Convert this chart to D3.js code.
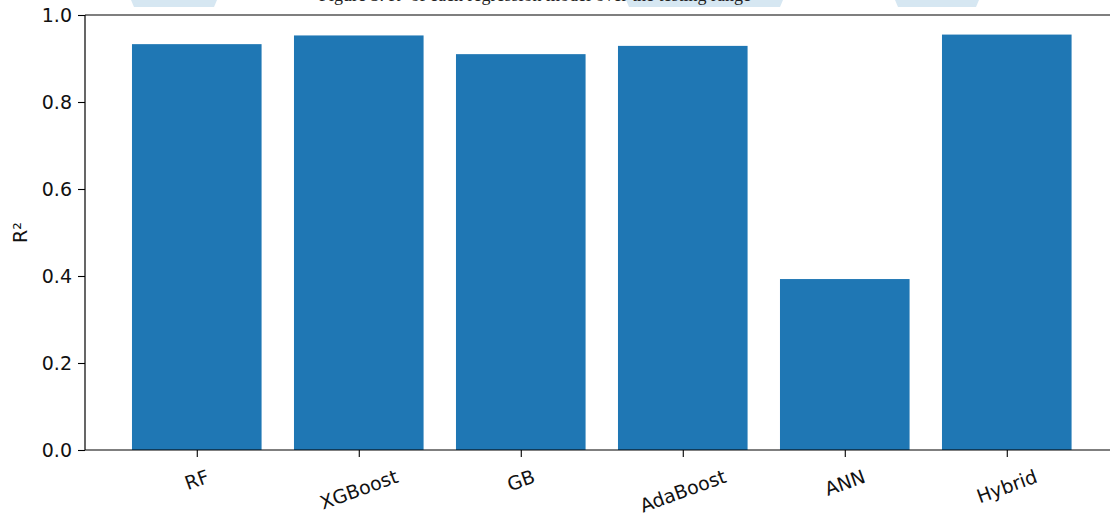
<!DOCTYPE html>
<html>
<head>
<meta charset="utf-8">
<script src="https://cdn.jsdelivr.net/npm/d3@7"></script>
<style>
  html, body { margin: 0; padding: 0; background: #fff; }
  svg { display: block; }
</style>
</head>
<body>
<svg id="chart" width="1110" height="513"></svg>
<script>
// Model names and their R² scores
const models = ["RF", "XGBoost", "GB", "AdaBoost", "ANN", "Hybrid"];
const r2Scores = [0.933, 0.953, 0.910, 0.929, 0.393, 0.955];
const yTicks = [0.0, 0.2, 0.4, 0.6, 0.8, 1.0];
const captionText = "Figure 3. R² of each regression model over the testing range";

const svg = d3.select("#chart");

// Plot area (the right part runs past the visible page edge)
const plotLeft = 85, plotTop = 15, plotBottom = 450;
const barWidth = 0.8;
const pad = (models.length - 1 + barWidth) * 0.05;
const xMin = -barWidth / 2 - pad, xMax = models.length - 1 + barWidth / 2 + pad;
const pxPerUnit = 162;
const plotRight = plotLeft + (xMax - xMin) * pxPerUnit;

const x = d3.scaleLinear().domain([xMin, xMax]).range([plotLeft, plotRight]);
const y = d3.scaleLinear().domain([0, 1]).range([plotBottom, plotTop]);

// Pale header band decoration
const bands = [[131, 217], [626, 783], [895, 979]];
svg.append("g").selectAll("path").data(bands).join("path")
  .attr("d", d => `M${d[0]},0 L${d[1]},0 L${d[1] - 3},7 L${d[0] + 3},7 Z`)
  .attr("fill", "#d6e7f2");

// Caption (mostly above the page edge)
svg.append("text")
  .attr("x", 535).attr("y", 1)
  .attr("text-anchor", "middle")
  .attr("font-family", "Liberation Serif, serif")
  .attr("font-size", 18)
  .attr("fill", "#222")
  .text(captionText);

// Bars
svg.append("g").selectAll("rect").data(models).join("rect")
  .attr("x", (d, i) => x(i - barWidth / 2))
  .attr("width", (d, i) => x(i + barWidth / 2) - x(i - barWidth / 2))
  .attr("y", (d, i) => y(r2Scores[i]))
  .attr("height", (d, i) => y(0) - y(r2Scores[i]))
  .attr("fill", "#1f77b4");

const fontFamily = "DejaVu Sans, sans-serif";
const fontSize = 19;

// Y axis
const yAxis = svg.append("g")
  .attr("transform", `translate(${plotLeft},0)`)
  .call(d3.axisLeft(y).tickValues(yTicks).tickFormat(d3.format(".1f")).tickSize(7).tickPadding(6));
yAxis.select(".domain").remove();
yAxis.selectAll("line").attr("stroke", "#000").attr("stroke-width", 1.1);
yAxis.selectAll("text").attr("font-family", fontFamily).attr("font-size", fontSize).attr("fill", "#111");

// X axis ticks
const xAxis = svg.append("g")
  .attr("transform", `translate(0,${plotBottom})`)
  .call(d3.axisBottom(x).tickValues(d3.range(models.length)).tickFormat("").tickSize(7));
xAxis.select(".domain").remove();
xAxis.selectAll("line").attr("stroke", "#000").attr("stroke-width", 1.1);

// Rotated category labels, bounding box top aligned under the ticks
const angle = 20;
const rad = angle * Math.PI / 180;
const labelTop = 465;
const labels = svg.append("g");
models.forEach((m, i) => {
  const t = labels.append("text")
    .attr("text-anchor", "middle")
    .attr("font-family", fontFamily)
    .attr("font-size", fontSize)
    .attr("fill", "#111")
    .text(m);
  const bb = t.node().getBBox();
  const w = bb.width, h = bb.height;
  const rotH = w * Math.sin(rad) + h * Math.cos(rad);
  const cy = labelTop + rotH / 2;
  t.attr("y", -(bb.y + h / 2))
   .attr("transform", `translate(${x(i)},${cy}) rotate(${-angle})`);
});

// Spines: left, bottom, top
const spine = svg.append("g").attr("stroke", "#000").attr("stroke-width", 1.2);
spine.append("line").attr("x1", plotLeft).attr("x2", plotLeft).attr("y1", plotTop).attr("y2", plotBottom);
spine.append("line").attr("x1", plotLeft).attr("x2", plotRight).attr("y1", plotBottom).attr("y2", plotBottom);
spine.append("line").attr("x1", plotLeft).attr("x2", plotRight).attr("y1", plotTop).attr("y2", plotTop);

// Y axis title
svg.append("text")
  .attr("transform", `translate(27,${(plotTop + plotBottom) / 2}) rotate(-90)`)
  .attr("text-anchor", "middle")
  .attr("font-family", fontFamily)
  .attr("font-size", fontSize)
  .attr("fill", "#111")
  .text("R²");
</script>
</body>
</html>
